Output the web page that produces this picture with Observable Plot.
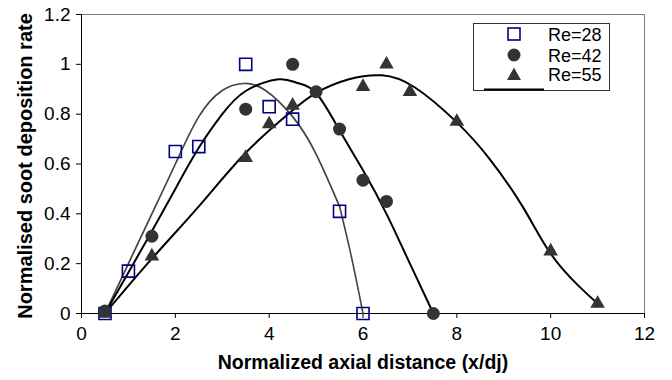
<!DOCTYPE html>
<html><head><meta charset="utf-8">
<script src="https://cdn.jsdelivr.net/npm/d3@7"></script>
<script src="https://cdn.jsdelivr.net/npm/@observablehq/plot@0.6"></script>
<style>
body{margin:0;background:#fff;}
#wrap{position:relative;width:672px;height:380px;font-family:"Liberation Sans",Arial,sans-serif;}
#legend{position:absolute;left:473px;top:23px;width:137px;height:68px;border:1px solid #333;background:#fff;box-sizing:border-box;}
#legend svg{position:absolute;left:0;top:0;}
</style></head><body><div id="wrap"></div>
<script>
// Categories
const seriesNames = ["Re=28", "Re=42", "Re=55"];
// Measured points [x, y]
const re28 = [[0.5,0],[1,0.17],[2,0.65],[2.5,0.67],[3.5,1.0],[4,0.83],[4.5,0.78],[5.5,0.41],[6,0]];
const re42 = [[0.5,0.01],[1.5,0.31],[3.5,0.82],[4.5,1.0],[5,0.89],[5.5,0.74],[6,0.535],[6.5,0.45],[7.5,0]];
const re55 = [[0.5,0],[1.5,0.23],[3.5,0.625],[4,0.76],[4.5,0.835],[6,0.91],[6.5,1.0],[7,0.89],[8,0.77],[10,0.25],[11,0.04]];
// Trend curves [x, y]
const re28Curve = [[0.5,0],[1,0.2],[1.5,0.4],[2,0.6],[2.5,0.79],[3,0.895],[3.45,0.923],[3.9,0.898],[4.5,0.79],[5,0.64],[5.5,0.43]];
const re28Tail = [[5.5,0.43],[5.75,0.23],[6,0]];
const re42Curve = [[0.5,0],[1,0.165],[1.5,0.33],[2,0.5],[2.5,0.665],[3,0.8],[3.5,0.893],[4.2,0.94],[4.6,0.925],[5,0.885],[5.5,0.735],[6,0.575],[6.5,0.4],[7,0.2],[7.5,0]];
const re55Curve = [[0.5,0],[1.5,0.22],[2.5,0.43],[3.5,0.645],[4.4,0.8],[5,0.885],[5.7,0.94],[6.4,0.956],[7.1,0.908],[8,0.767],[8.7,0.62],[9.4,0.43],[10,0.24],[10.6,0.11],[11,0.04]];
// Ticks
const xTicks = [0,2,4,6,8,10,12];
const xTickLabels = ["0","2","4","6","8","10","12"];
const yTicks = [0,0.2,0.4,0.6,0.8,1,1.2];
const yTickLabels = ["0","0.2","0.4","0.6","0.8","1","1.2"];
const xTitle = "Normalized axial distance (x/dj)";
const yTitle = "Normalised soot deposition rate";

const font = "'Liberation Sans', Arial, sans-serif";
const X = d => d[0], Y = d => d[1];

const chart = Plot.plot({
  width: 672, height: 380,
  marginLeft: 81, marginRight: 28, marginTop: 14, marginBottom: 67,
  x: {domain: [0, 12]},
  y: {domain: [0, 1.2]},
  style: {fontFamily: font, background: "white", color: "black"},
  marks: [
    Plot.ruleY([1.2], {stroke: "#808080", strokeWidth: 1}),
    Plot.ruleX([12], {stroke: "#808080", strokeWidth: 1}),
    Plot.axisX({ticks: xTicks, tickSize: 5, tickPadding: 8, fontSize: 19, label: null, tickFormat: d => xTickLabels[xTicks.indexOf(d)]}),
    Plot.axisY({ticks: yTicks, tickSize: 5, tickPadding: 6, fontSize: 19, label: null, tickFormat: d => yTickLabels[yTicks.indexOf(d)]}),
    Plot.ruleY([0], {stroke: "black"}),
    Plot.ruleX([0], {stroke: "black"}),
    Plot.line(re28Curve, {x: X, y: Y, curve: "natural", stroke: "#444", strokeWidth: 1.7}),
    Plot.line(re28Tail, {x: X, y: Y, curve: "natural", stroke: "#444", strokeWidth: 1.7, strokeDasharray: "1.5,1.2"}),
    Plot.line(re42Curve, {x: X, y: Y, curve: "natural", stroke: "black", strokeWidth: 2}),
    Plot.line(re55Curve, {x: X, y: Y, curve: "natural", stroke: "black", strokeWidth: 2}),
    Plot.dot(re28, {x: X, y: Y, symbol: "square", r: 6.8, stroke: "#000080", strokeWidth: 1.6, fill: "none"}),
    Plot.dot(re42, {x: X, y: Y, symbol: "circle", r: 6.5, fill: "#333", stroke: "none"}),
    Plot.dot(re55, {x: X, y: Y, symbol: "triangle", r: 5.4, fill: "#333", stroke: "none"}),
    Plot.text([xTitle], {frameAnchor: "bottom", dy: 49, lineAnchor: "middle", textAnchor: "middle", fontSize: 19.5, fontWeight: "bold", fill: "black"}),
    Plot.text([yTitle], {frameAnchor: "left", dx: -56, dy: 2, rotate: -90, lineAnchor: "middle", textAnchor: "middle", fontSize: 20, fontWeight: "bold", fill: "black"})
  ]
});

const wrap = document.getElementById("wrap");
wrap.appendChild(chart);

// Legend
const lg = document.createElement("div");
lg.id = "legend";
const ns = "http://www.w3.org/2000/svg";
const svg = document.createElementNS(ns, "svg");
svg.setAttribute("width", 137); svg.setAttribute("height", 68);
const rows = [10, 31, 50];
const sym = [
  `<rect x="34" y="${rows[0]-6}" width="12" height="12" fill="none" stroke="#000080" stroke-width="1.6"/>`,
  `<circle cx="40" cy="${rows[1]}" r="6.5" fill="#333"/>`,
  `<path d="M40,${rows[2]-6.5} L47,${rows[2]+6} L33,${rows[2]+6} Z" fill="#333"/>`
];
let html = sym.join("");
seriesNames.forEach((s, i) => {
  html += `<text x="74" y="${rows[i] + 6.5}" font-size="18" font-family="${font.replace(/'/g, '&quot;')}" fill="black">${s}</text>`;
});
html += `<line x1="10" x2="70" y1="65.5" y2="65.5" stroke="black" stroke-width="2"/>`;
svg.innerHTML = html;
lg.appendChild(svg);
wrap.appendChild(lg);
</script>
</body></html>
